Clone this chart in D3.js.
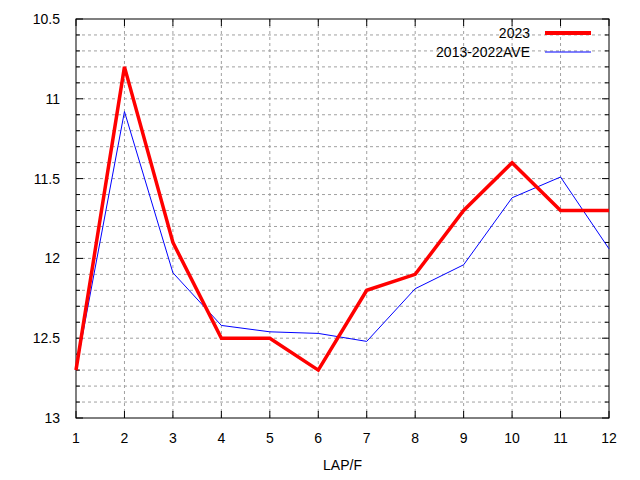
<!DOCTYPE html>
<html><head><meta charset="utf-8">
<script src="https://cdn.jsdelivr.net/npm/d3@7"></script>
<style>body{margin:0;background:#fff}text{font-family:"Liberation Sans",Arial,sans-serif;font-size:14px}</style>
</head><body><svg id="c" width="640" height="480"></svg>
<script>
const laps = [1,2,3,4,5,6,7,8,9,10,11,12]
const y2023 = [12.7,10.8,11.9,12.5,12.5,12.7,12.2,12.1,11.7,11.4,11.7,11.7]
const yAve = [12.7,11.08,12.09,12.42,12.46,12.47,12.52,12.19,12.04,11.62,11.49,11.94]
const yTicks = [10.5,11,11.5,12,12.5,13]

const L = 76, R = 609, T = 19, B = 418
const svg = d3.select('#c')
const x = d3.scaleLinear().domain([1,12]).range([L,R])
const y = d3.scaleLinear().domain([10.5,13]).range([T,B])

const minor = d3.range(0,26).map(i => 10.5 + i*0.1)
const grid = svg.append('g').attr('stroke','#a0a0a0').attr('stroke-dasharray','3,3')
minor.forEach(v => {
    if (v > 10.55 && v < 12.95) grid.append('line').attr('x1',L).attr('x2',R).attr('y1',y(v)).attr('y2',y(v))
})
laps.slice(1,-1).forEach(v => grid.append('line').attr('x1',x(v)).attr('x2',x(v)).attr('y1',T).attr('y2',B))

const tk = svg.append('g').attr('stroke','#000')
minor.forEach((v,i) => {
    const len = i % 5 === 0 ? 7 : 4
    tk.append('line').attr('x1',L).attr('x2',L+len).attr('y1',y(v)).attr('y2',y(v))
    tk.append('line').attr('x1',R).attr('x2',R-len).attr('y1',y(v)).attr('y2',y(v))
})
laps.forEach(v => {
    tk.append('line').attr('x1',x(v)).attr('x2',x(v)).attr('y1',B).attr('y2',B-7)
    tk.append('line').attr('x1',x(v)).attr('x2',x(v)).attr('y1',T).attr('y2',T+7)
})
svg.append('rect').attr('x',L).attr('y',T).attr('width',R-L).attr('height',B-T)
    .attr('fill','none').attr('stroke','#000')

yTicks.forEach(v => svg.append('text').attr('x',L-16).attr('y',y(v)+5).attr('text-anchor','end').text(d3.format('')(v)))
laps.forEach(v => svg.append('text').attr('x',x(v)).attr('y',B+25).attr('text-anchor','middle').text(v))
svg.append('text').attr('x',(L+R)/2).attr('y',470).attr('text-anchor','middle').text('LAP/F')

const line = d3.line().x((d,i) => x(laps[i])).y(d => y(d))
svg.append('path').datum(yAve).attr('d',line).attr('fill','none').attr('stroke','#0000ff').attr('stroke-width',1)
svg.append('path').datum(y2023).attr('d',line).attr('fill','none').attr('stroke','#ff0000').attr('stroke-width',3.5)

const legend = [['2023','#ff0000',4],['2013-2022AVE','#0000ff',1]]
legend.forEach((d,i) => {
    const ly = 33 + i*19
    svg.append('text').attr('x',530).attr('y',ly+5).attr('text-anchor','end').text(d[0])
    svg.append('line').attr('x1',545).attr('x2',591).attr('y1',ly).attr('y2',ly).attr('stroke',d[1]).attr('stroke-width',d[2])
})
</script></body></html>
